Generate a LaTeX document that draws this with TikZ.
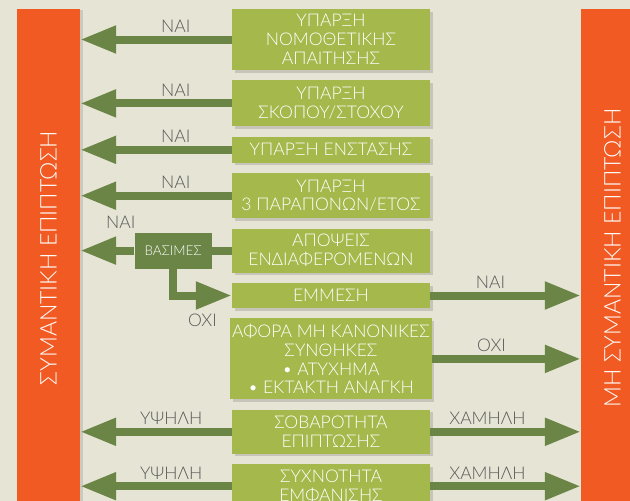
\documentclass[tikz,border=0pt]{standalone}
\usepackage{fontspec}
\setmainfont{Lato Light}
\usepackage{xcolor}
\usepackage{graphicx}
\usetikzlibrary{positioning,arrows.meta,shadows}

\definecolor{bgcream}{HTML}{E6E4D4}
\definecolor{boxgreen}{HTML}{A5B84B}
\definecolor{darkgreen}{HTML}{6A8545}
\definecolor{barorange}{HTML}{F15A22}
\definecolor{labelgray}{HTML}{58595B}

\begin{document}
\begin{tikzpicture}[
    x=1pt, y=-1pt,
    node distance=10pt,
    box/.style={rectangle, fill=boxgreen, text=white, align=center, minimum width=198pt, inner sep=2pt, font=\fontsize{17.5}{18.8}\selectfont, drop shadow={shadow xshift=2.5pt, shadow yshift=-2.5pt, opacity=0.3}},
    vasbox/.style={rectangle, fill=darkgreen, text=white, minimum width=77pt, minimum height=36pt, inner sep=2pt, font=\fontsize{13.5}{15}\selectfont},
    bar/.style={rectangle, fill=barorange, text=white, minimum width=63pt, minimum height=498pt, inner sep=0pt, font=\fontsize{23}{27}\selectfont, drop shadow={shadow xshift=3pt, shadow yshift=-1pt, opacity=0.25}},
    arrow/.style={-{Triangle[length=36pt,width=26pt]}, line width=8pt, darkgreen},
    answer/.style={text=labelgray, inner sep=2pt, font=\fontsize{17.5}{18}\selectfont}
]
\useasboundingbox (0,0) rectangle (630,501);
\clip (0,0) rectangle (630,501);
\fill[bgcream] (0,0) rectangle (630,501);

% Side bars
\node[bar] (lbar) at (48.5,258) {\rotatebox{90}{ΣΥΜΑΝΤΙΚΗ ΕΠΙΠΤΩΣΗ}};
\node[bar] (rbar) at (612.5,258) {\rotatebox{90}{ΜΗ ΣΥΜΑΝΤΙΚΗ ΕΠΙΠΤΩΣΗ}};

% Criteria column
\node[box, minimum height=61pt] (nomo) at (331,39.5) {ΥΠΑΡΞΗ\\ΝΟΜΟΘΕΤΙΚΗΣ\\ΑΠΑΙΤΗΣΗΣ};
\node[box, minimum height=46pt, below=of nomo] (skopos) {ΥΠΑΡΞΗ\\ΣΚΟΠΟΥ/ΣΤΟΧΟΥ};
\node[box, minimum height=26pt, below=of skopos] (enstasi) {ΥΠΑΡΞΗ ΕΝΣΤΑΣΗΣ};
\node[box, minimum height=45pt, below=of enstasi] (parapona) {ΥΠΑΡΞΗ\\3 ΠΑΡΑΠΟΝΩΝ/ΕΤΟΣ};
\node[box, minimum height=44pt, below=of parapona] (apopseis) {ΑΠΟΨΕΙΣ\\ΕΝΔΙΑΦΕΡΟΜΕΝΩΝ};
\node[box, minimum height=25pt, below=of apopseis] (emmesi) {ΕΜΜΕΣΗ};
\node[box, minimum height=81pt, below=of emmesi] (synthikes) {ΑΦΟΡΑ ΜΗ ΚΑΝΟΝΙΚΕΣ\\ΣΥΝΘΗΚΕΣ\\• ΑΤΥΧΗΜΑ\\• ΕΚΤΑΚΤΗ ΑΝΑΓΚΗ};
\node[box, minimum height=44pt, below=of synthikes] (sovarotita) {ΣΟΒΑΡΟΤΗΤΑ\\ΕΠΙΠΤΩΣΗΣ};
\node[box, minimum height=44pt, below=of sovarotita] (syxnotita) {ΣΥΧΝΟΤΗΤΑ\\ΕΜΦΑΝΙΣΗΣ};

\node[vasbox, left=20pt of apopseis] (vasimes) {ΒΑΣΙΜΕΣ};

% Arrows to the left bar
\draw[arrow] (nomo.west) -- node[answer, above=1pt, pos=0.37] (nai1) {ΝΑΙ} (nomo.west -| lbar.east);
\draw[arrow] (skopos.west) -- node[answer, above=1pt, pos=0.37] (nai2) {ΝΑΙ} (skopos.west -| lbar.east);
\draw[arrow] (enstasi.west) -- node[answer, above=1pt, pos=0.37] (nai3) {ΝΑΙ} (enstasi.west -| lbar.east);
\draw[arrow] (parapona.west) -- node[answer, above=1pt, pos=0.37] (nai4) {ΝΑΙ} (parapona.west -| lbar.east);
\draw[line width=8pt, darkgreen] (apopseis.west) -- (vasimes.east);
\draw[arrow] (vasimes.west) -- node[answer, above=16pt, pos=0.25] (nai5) {ΝΑΙ} (vasimes.west -| lbar.east);
\draw[arrow, line join=miter] (vasimes.south) |- node[answer, below=12pt, pos=0.75] (oxi1) {ΟΧΙ} (emmesi.west);
\draw[arrow] (sovarotita.west) -- node[answer, above=1pt, pos=0.4] (ypsili1) {ΥΨΗΛΗ} (sovarotita.west -| lbar.east);
\draw[arrow] (syxnotita.west) -- node[answer, above=1pt, pos=0.4] (ypsili2) {ΥΨΗΛΗ} (syxnotita.west -| lbar.east);

% Arrows to the right bar
\draw[arrow] (emmesi.east) -- node[answer, above=1pt, pos=0.4] (nai6) {ΝΑΙ} (emmesi.east -| rbar.west);
\draw[arrow] (synthikes.east) -- node[answer, above=1pt, pos=0.4] (oxi2) {ΟΧΙ} (synthikes.east -| rbar.west);
\draw[arrow] (sovarotita.east) -- node[answer, above=1pt, pos=0.38] (xamili1) {ΧΑΜΗΛΗ} (sovarotita.east -| rbar.west);
\draw[arrow] (syxnotita.east) -- node[answer, above=1pt, pos=0.38] (xamili2) {ΧΑΜΗΛΗ} (syxnotita.east -| rbar.west);

\end{tikzpicture}
\end{document}
